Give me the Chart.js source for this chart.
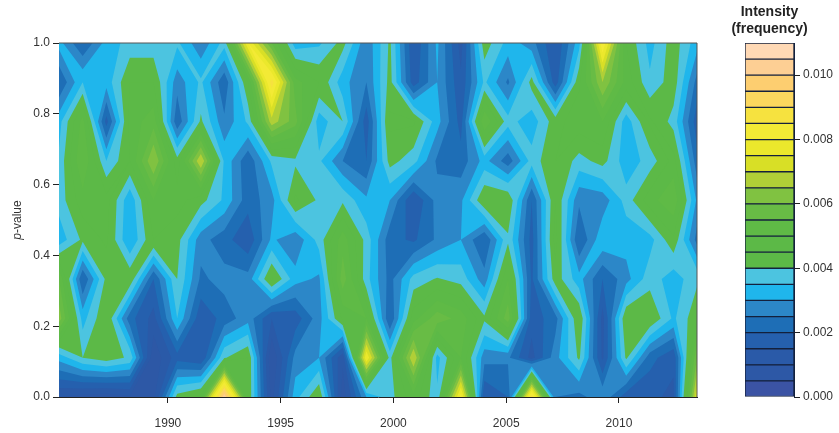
<!DOCTYPE html>
<html>
<head>
<meta charset="utf-8">
<style>
  body { margin: 0; background: #fff; }
  canvas { position: absolute; top: 0; }
  #contour { left: 0; }
  #colorbar { left: 700px; }
</style>
</head>
<body>
<canvas id="contour" width="720" height="433"></canvas>
<canvas id="colorbar" width="138" height="433"></canvas>
<script src="https://cdn.jsdelivr.net/npm/chart.js@4/dist/chart.umd.min.js"></script>
<script>
const yearTicks = [1990, 1995, 2000, 2005, 2010];
const pTicks = [0, 0.2, 0.4, 0.6, 0.8, 1];
const intensityTicks = [0, 0.002, 0.004, 0.006, 0.008, 0.01];
const colorbarTitle = ["Intensity", "(frequency)"];

const columnYears = [1985.17, 1986.22, 1987.27, 1988.31, 1989.36, 1990.41, 1991.46, 1992.5, 1993.55, 1994.6, 1995.65, 1996.7, 1997.75, 1998.8,
  1999.84, 2000.89, 2001.94, 2002.99, 2004.03, 2005.08, 2006.13, 2007.18, 2008.23, 2009.27, 2010.32, 2011.37, 2012.42, 2013.46];

// intensity, in units of 0.001, one list per p-value row
const p100 = [3.2, 2.0, 3.2, 3.7, 3.7, 3.6, 2.6, 3.7, 8.0, 5.5, 3.2, 3.4, 4.2, 2.6, 4.1, 1.5, 3.1, 1.3, 4.3, 3.3, 2.7, 1.5, 3.3, 8.5, 4.5, 3.3, 4.3, 3.2];
const p089 = [2.0, 3.5, 3.2, 4.5, 4.5, 2.7, 3.6, 2.1, 4.5, 8.8, 5.2, 4.5, 3.2, 2.5, 4.2, 1.7, 3.0, 1.6, 3.6, 2.4, 4.2, 1.7, 4.4, 6.5, 4.8, 3.6, 4.3, 2.3];
const p078 = [3.3, 5.2, 1.8, 4.7, 5.3, 2.1, 4.1, 2.6, 3.6, 6.8, 5.7, 3.2, 4.0, 1.7, 4.6, 4.6, 3.2, 1.8, 5.5, 3.7, 3.2, 4.3, 4.8, 5.0, 3.2, 4.6, 3.8, 1.7];
const p067 = [3.6, 5.5, 3.5, 4.5, 6.5, 4.2, 7.0, 3.4, 2.1, 3.6, 3.9, 3.6, 2.5, 2.0, 4.2, 3.7, 2.4, 2.2, 3.2, 2.2, 3.7, 4.5, 3.8, 4.2, 3.2, 3.7, 4.7, 2.2];
const p056 = [3.7, 4.8, 4.7, 3.1, 5.0, 4.7, 4.2, 3.4, 2.2, 2.8, 4.6, 3.9, 3.9, 3.1, 3.0, 1.5, 2.7, 2.9, 4.5, 4.5, 2.0, 4.5, 2.6, 2.7, 3.7, 4.8, 5.4, 2.9];
const p044 = [3.2, 4.1, 4.6, 3.0, 4.5, 4.2, 2.7, 2.2, 1.6, 3.1, 2.6, 3.7, 5.3, 3.8, 2.2, 1.9, 2.6, 3.0, 2.0, 3.9, 1.8, 4.7, 2.0, 3.4, 3.2, 3.3, 4.4, 2.3];
const p033 = [5.5, 2.0, 4.15, 4.4, 2.0, 4.0, 2.4, 2.7, 2.7, 4.6, 3.2, 2.9, 5.8, 3.7, 2.3, 3.7, 4.05, 3.8, 2.7, 5.0, 1.9, 4.3, 3.2, 2.0, 2.8, 3.8, 3.2, 3.9];
const p022 = [6.3, 3.3, 4.5, 2.2, 1.3, 3.5, 1.6, 2.2, 2.8, 1.5, 1.7, 2.8, 4.6, 5.0, 2.0, 4.8, 5.8, 5.3, 4.1, 5.8, 1.7, 2.3, 4.5, 1.3, 4.5, 4.5, 3.4, 4.4];
const p011 = [3.2, 4.0, 4.3, 3.9, 0.6, 1.8, 1.5, 3.95, 4.5, 0.5, 2.7, 3.0, 1.1, 8.0, 3.8, 7.0, 3.3, 5.0, 2.7, 2.6, 1.3, 2.8, 4.1, 1.4, 4.1, 2.2, 1.6, 6.0];
const p000 = [1.0, 0.8, 0.7, 0.9, 0.8, 4.2, 4.7, 10.5, 4.5, 0.8, 3.3, 4.5, 0.7, 3.0, 3.8, 4.8, 3.6, 8.3, 1.5, 2.0, 9.0, 2.5, 2.3, 2.9, 1.7, 1.6, 1.4, 7.5];

const rowPValues = [1, 0.889, 0.778, 0.667, 0.556, 0.444, 0.333, 0.222, 0.111, 0];
const rows = [p100, p089, p078, p067, p056, p044, p033, p022, p011, p000];

// one colour per 0.0005 band, lowest first
const bandStep = 0.5;
const bandColors = ["#3b53a4", "#2d58a6", "#2a5aa8", "#2560ae", "#1e6eb6", "#2c87c8", "#1fb6ec", "#4cc4e0",
  "#5cb947", "#5cb947", "#5fba46", "#68bc45", "#80c241", "#b0cf37", "#d8df26", "#ebe82c",
  "#f3ea35", "#f6e23f", "#fbd75e", "#fdce70", "#fdcf94", "#ffd9b5"];

const textColor = "#333";
const font = { family: "'Liberation Sans', Arial, sans-serif", size: 12 };

// keep the part of a cell that is at or above level, values run linear along its edges
function clipCell(corners, level) {
  const out = [];
  corners.forEach((a, i) => {
    const b = corners[(i + 1) % corners.length];
    if (a.v >= level) out.push(a);
    if ((a.v >= level) !== (b.v >= level)) {
      const t = (level - a.v) / (b.v - a.v);
      out.push({ x: a.x + (b.x - a.x) * t, y: a.y + (b.y - a.y) * t, v: level });
    }
  });
  return out;
}

// paints the bands lowest first, each one over the area at or above its lower level
const contourFill = {
  id: "contourFill",
  beforeDatasetsDraw(chart) {
    const { ctx, chartArea: area, scales: { x, y } } = chart;
    ctx.save();
    ctx.beginPath();
    ctx.rect(area.left, area.top, area.width, area.height);
    ctx.clip();
    ctx.filter = "blur(0.5px)";
    bandColors.forEach((color, band) => {
      const level = band === 0 ? -1 : band * bandStep;
      ctx.beginPath();
      for (let r = 0; r < rows.length - 1; r++) {
        for (let c = 0; c < columnYears.length - 1; c++) {
          const poly = clipCell([
            { x: columnYears[c], y: rowPValues[r], v: rows[r][c] },
            { x: columnYears[c + 1], y: rowPValues[r], v: rows[r][c + 1] },
            { x: columnYears[c + 1], y: rowPValues[r + 1], v: rows[r + 1][c + 1] },
            { x: columnYears[c], y: rowPValues[r + 1], v: rows[r + 1][c] }
          ], level);
          poly.forEach((p, i) => {
            const px = x.getPixelForValue(p.x), py = y.getPixelForValue(p.y);
            if (i === 0) ctx.moveTo(px, py); else ctx.lineTo(px, py);
          });
          if (poly.length) ctx.closePath();
        }
      }
      ctx.fillStyle = color;
      ctx.fill();
    });
    ctx.restore();
  },
  afterDraw(chart) {
    const { ctx, chartArea: area } = chart;
    ctx.save();
    // thin frame on top and right
    ctx.strokeStyle = "#555";
    ctx.lineWidth = 1;
    ctx.beginPath();
    ctx.moveTo(area.left, area.top);
    ctx.lineTo(area.right, area.top);
    ctx.lineTo(area.right, area.bottom);
    ctx.stroke();
    // y axis title, only the p is italic
    const f = font.size + "px " + font.family;
    ctx.translate(18, (area.top + area.bottom) / 2);
    ctx.rotate(-Math.PI / 2);
    ctx.fillStyle = textColor;
    ctx.textBaseline = "middle";
    ctx.textAlign = "left";
    ctx.font = "italic " + f;
    const pw = ctx.measureText("p").width;
    ctx.font = f;
    const rest = ctx.measureText("-value").width;
    ctx.font = "italic " + f;
    ctx.fillText("p", -(pw + rest) / 2, 0);
    ctx.font = f;
    ctx.fillText("-value", -(pw + rest) / 2 + pw, 0);
    ctx.restore();
  }
};

// title sits over the bar itself, not over the whole canvas
const barTitle = {
  id: "barTitle",
  afterDraw(chart) {
    const { ctx, chartArea: area } = chart;
    ctx.save();
    ctx.font = "bold 14px " + font.family;
    ctx.fillStyle = "#222";
    ctx.textAlign = "center";
    ctx.textBaseline = "middle";
    colorbarTitle.forEach((line, i) => {
      ctx.fillText(line, (area.left + area.right) / 2, 12 + i * 17);
    });
    ctx.restore();
  }
};

const gridPoints = [];
rows.forEach((row, r) => row.forEach((v, c) => {
  gridPoints.push({ x: columnYears[c], y: rowPValues[r], v: v });
}));

new Chart(document.getElementById("contour"), {
  type: "scatter",
  data: { datasets: [{ data: gridPoints, pointRadius: 0, pointHoverRadius: 0 }] },
  plugins: [contourFill],
  options: {
    responsive: false,
    animation: false,
    layout: { padding: { top: 43, right: 23, left: 0, bottom: 0 } },
    plugins: { legend: { display: false }, tooltip: { enabled: false } },
    scales: {
      x: {
        type: "linear",
        min: columnYears[0],
        max: columnYears[columnYears.length - 1],
        afterBuildTicks: s => { s.ticks = yearTicks.map(v => ({ value: v })); },
        afterFit: s => { s.height = 36; },
        grid: { drawOnChartArea: false, color: "#222", tickLength: 6 },
        border: { color: "#222" },
        ticks: { color: textColor, font: font, padding: 13, maxRotation: 0, callback: v => String(v) }
      },
      y: {
        min: 0,
        max: 1,
        afterBuildTicks: s => { s.ticks = pTicks.map(v => ({ value: v })); },
        afterFit: s => { s.width = 59; },
        grid: { drawOnChartArea: false, color: "#222", tickLength: 6 },
        border: { color: "#222" },
        ticks: { color: textColor, font: font, padding: 3, callback: v => v.toFixed(1) }
      }
    }
  }
});

const barDatasets = bandColors.map(c => ({
  data: [bandStep / 1000],
  backgroundColor: c,
  borderColor: "#14213d",
  borderWidth: 1,
  borderSkipped: false,
  categoryPercentage: 1,
  barPercentage: 1
}));

new Chart(document.getElementById("colorbar"), {
  type: "bar",
  data: { labels: ["Intensity"], datasets: barDatasets },
  plugins: [barTitle],
  options: {
    responsive: false,
    animation: false,
    layout: { padding: { left: 45, right: 0, top: 43, bottom: 36 } },
    plugins: { legend: { display: false }, tooltip: { enabled: false } },
    scales: {
      x: { stacked: true, display: false },
      y: {
        stacked: true,
        position: "right",
        min: 0,
        max: 0.011,
        afterBuildTicks: s => { s.ticks = intensityTicks.map(v => ({ value: v })); },
        afterFit: s => { s.width = 44; },
        grid: { drawOnChartArea: false, color: "#222", tickLength: 6 },
        border: { color: "#14213d" },
        ticks: { color: textColor, font: font, padding: 3, callback: v => v.toFixed(3) }
      }
    }
  }
});
</script>
</body>
</html>
